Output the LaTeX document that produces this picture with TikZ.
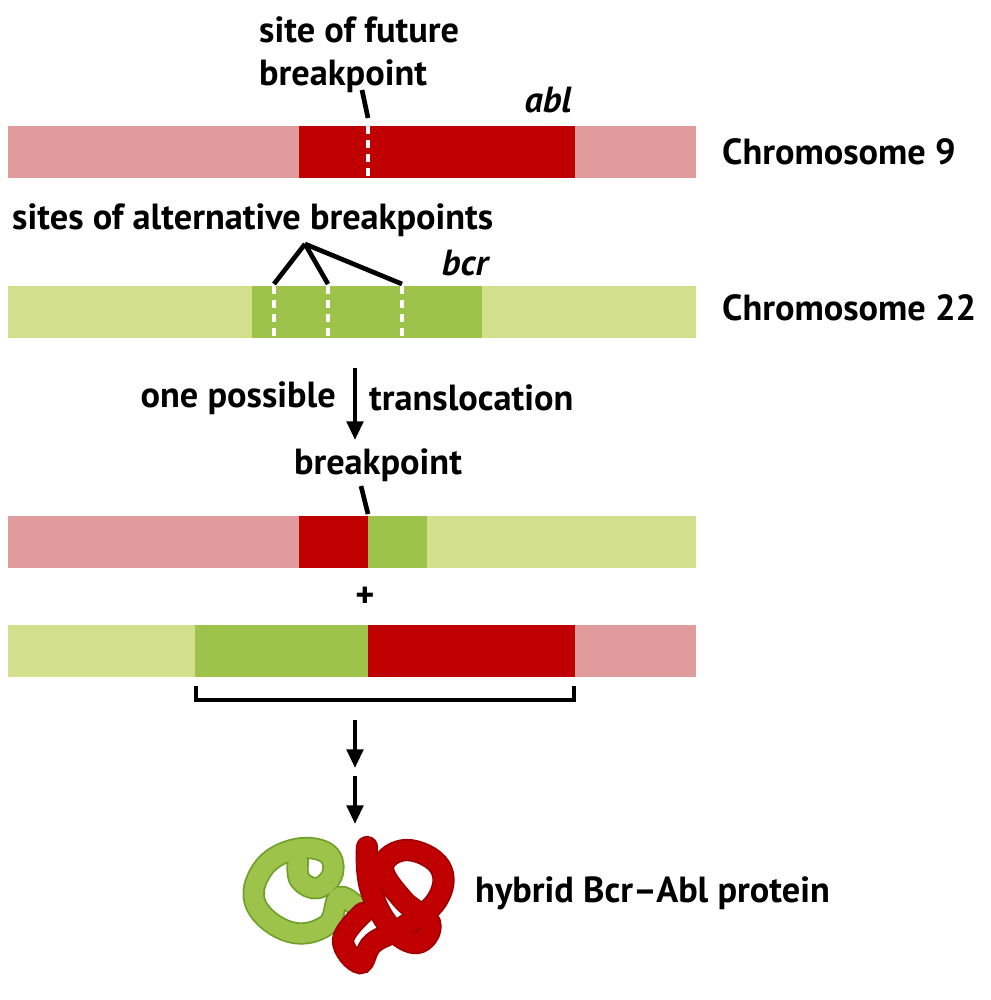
\documentclass[tikz,border=0pt]{standalone}
\usepackage{fontspec}
\setmainfont{PT Sans}
\definecolor{pinkl}{HTML}{E09C9C}
\definecolor{redd}{HTML}{C00000}
\definecolor{greenl}{HTML}{D2E08E}
\definecolor{greend}{HTML}{9DC34A}
\definecolor{greeno}{HTML}{6FA02A}
\definecolor{redo}{HTML}{A00000}
\usetikzlibrary{arrows.meta}
\tikzset{
  lbl/.style={font=\fontsize{31}{37}\selectfont\bfseries, inner sep=0pt},
  ital/.style={font=\fontsize{31}{37}\selectfont\bfseries\itshape, inner sep=0pt},
  brk/.style={white, line width=2.8pt, dash pattern=on 7pt off 5pt},
  tick/.style={line width=4pt},
  arr/.style={line width=3.6pt, -{Triangle[length=16pt,width=14pt]}}
}
\begin{document}
\begin{tikzpicture}[x=0.03cm,y=-0.03cm]
\useasboundingbox (0,0) rectangle (991,1000);

% chromosome 9
\fill[pinkl] (8,126) rectangle (696,178);
\fill[redd] (299,126) rectangle (575,178);
\draw[brk] (368,126) -- (368,178);
\node[lbl, align=left, anchor=north west] (fut) at (259,16) {site of future\\breakpoint};
\draw[tick] (362,90) -- (368,118);
\node[ital] (abl) at (548,100) {abl};
\node[lbl, anchor=west] (c9) at (722,152) {Chromosome 9};

% chromosome 22
\fill[greenl] (8,286) rectangle (696,338);
\fill[greend] (252,286) rectangle (482,338);
\foreach \x in {274,328,402} \draw[brk] (\x,286) -- (\x,338);
\node[lbl, anchor=west] (alt) at (12,220) {sites of alternative breakpoints};
\coordinate (fork) at (305,244);
\foreach \x in {274,328,402} \draw[tick, line join=round] (fork) -- (\x,284);
\node[ital] (bcr) at (465,263) {bcr};
\node[lbl, anchor=west] (c22) at (722,308) {Chromosome 22};

% translocation
\coordinate (t1) at (355,368);
\coordinate (t2) at (355,440);
\draw[arr] (t1) -- (t2);
\node[lbl, anchor=east] (one) at (336,398) {one possible};
\node[lbl, anchor=west] (tra) at (369,398) {translocation};
\node[lbl] (bp) at (378,465) {breakpoint};
\draw[tick] (361,486) -- (368,514);

% derivative chromosomes
\fill[pinkl] (8,516) rectangle (299,568);
\fill[redd] (299,516) rectangle (368,568);
\fill[greend] (368,516) rectangle (427,568);
\fill[greenl] (427,516) rectangle (696,568);
\node[lbl] (plus) at (365,597) {+};
\fill[greenl] (8,625) rectangle (195,677);
\fill[greend] (195,625) rectangle (368,677);
\fill[redd] (368,625) rectangle (575,677);
\fill[pinkl] (575,625) rectangle (696,677);
\draw[line width=3.6pt] (196,686) -- (196,700) -- (574,700) -- (574,686);

\draw[arr] (355,720) -- (355,768);
\draw[arr] (355,776) -- (355,824);

% protein
\draw[greeno, line width=19pt, line cap=round] plot[smooth, tension=0.7] coordinates {(363,913) (340,897) (327,925) (290,932) (256,905) (262,870) (292,850) (325,852) (333,872) (318,888) (300,880) (298,862)};
\draw[greend, line width=16pt, line cap=round] plot[smooth, tension=0.7] coordinates {(363,913) (340,897) (327,925) (290,932) (256,905) (262,870) (292,850) (325,852) (333,872) (318,888) (300,880) (298,862)};
\draw[redo, line width=19pt, line cap=round] plot[smooth, tension=0.7] coordinates {(363,913) (343,940) (360,963) (373,943) (403,927) (437,900) (440,867) (407,850) (383,867) (403,900) (430,923) (417,943) (390,927) (370,887) (367,847)};
\draw[redd, line width=16pt, line cap=round] plot[smooth, tension=0.7] coordinates {(363,913) (343,940) (360,963) (373,943) (403,927) (437,900) (440,867) (407,850) (383,867) (403,900) (430,923) (417,943) (390,927) (370,887) (367,847)};
\node[lbl, anchor=west] (hyb) at (475,893) {hybrid Bcr–Abl protein};
\end{tikzpicture}
\end{document}
